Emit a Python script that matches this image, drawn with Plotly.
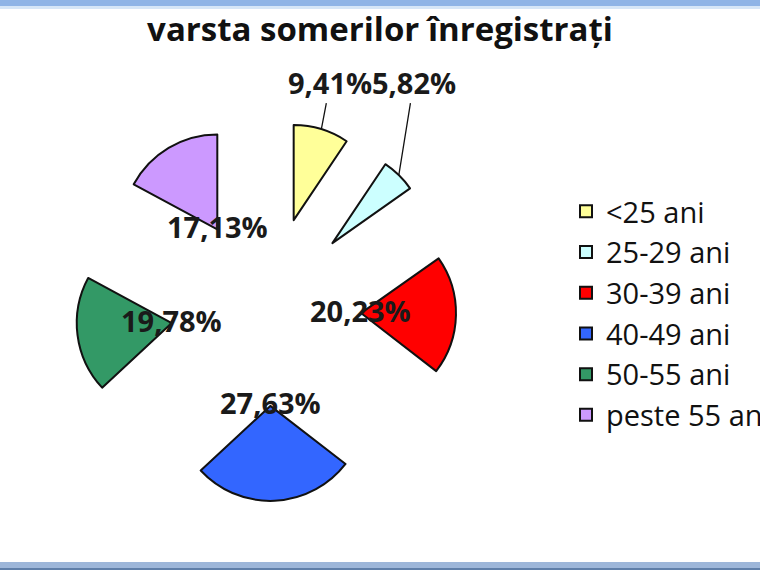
import math
import plotly.graph_objects as go

# ---- data ----
categories = ["<25 ani", "25-29 ani", "30-39 ani", "40-49 ani", "50-55 ani", "peste 55 ani"]
values = [9.41, 5.82, 20.23, 27.63, 19.78, 17.13]
colors = ["#FFFF99", "#CCFFFF", "#FF0000", "#3366FF", "#339966", "#CC99FF"]
title_text = "varsta somerilor înregistrați"

def fmt(v):
    return f"{v:.2f}".replace(".", ",") + "%"

labels_text = [fmt(v) for v in values]

# ---- layout geometry ----
W, H = 760, 570
PULL = 1.0
DOM_X = [76 / W, 456 / W]
DOM_Y = [1 - 501 / H, 1 - 121 / H]
FONT = "Open Sans"

fig = go.Figure()
fig.add_trace(go.Pie(
    labels=categories,
    values=values,
    sort=False,
    direction="clockwise",
    rotation=0,
    pull=[PULL] * len(values),
    marker=dict(colors=colors, line=dict(color="#111111", width=2)),
    textinfo="none",
    hoverinfo="label+percent",
    domain=dict(x=DOM_X, y=DOM_Y),
))

# compute slice geometry like plotly does, to place the labels at slice apexes
box_w = W * (DOM_X[1] - DOM_X[0])
box_h = H * (DOM_Y[1] - DOM_Y[0])
r = min(box_w, box_h) / (2 + 2 * PULL)
cx = W * (DOM_X[0] + DOM_X[1]) / 2
cy = H * (1 - (DOM_Y[0] + DOM_Y[1]) / 2)
total = sum(values)

label_font = dict(family=FONT, size=29, color="#1a1a1a", weight="bold")
leader_offsets = {0: (9, -47), 1: (15, -93)}

annotations = []
cum = 0.0
for i, v in enumerate(values):
    theta = math.radians(360 * (cum + v / 2) / total)
    cum += v
    ax_px = cx + PULL * r * math.sin(theta)
    ay_px = cy - PULL * r * math.cos(theta)
    if i in leader_offsets:
        # small slices: label above with a leader line to the arc middle
        tx = ax_px + r * math.sin(theta)
        ty = ay_px - r * math.cos(theta)
        off_x, off_y = leader_offsets[i]
        annotations.append(dict(
            x=tx / W, y=1 - ty / H, xref="paper", yref="paper",
            text=labels_text[i], showarrow=True, arrowhead=0, arrowwidth=1.3,
            arrowcolor="#111111", ax=off_x, ay=off_y, standoff=0,
            xanchor="center", yanchor="middle", font=label_font,
        ))
    else:
        annotations.append(dict(
            x=ax_px / W, y=1 - (ay_px - 3) / H, xref="paper", yref="paper",
            text=labels_text[i], showarrow=False,
            xanchor="center", yanchor="middle", font=label_font,
        ))

shapes = [
    dict(type="rect", xref="paper", yref="paper", x0=0, x1=1, y0=1 - 6 / H, y1=1,
         fillcolor="#8FB4E6", line=dict(width=0), layer="above"),
    dict(type="rect", xref="paper", yref="paper", x0=0, x1=1, y0=1 - 9 / H, y1=1 - 6 / H,
         fillcolor="#D6E6F7", line=dict(width=0), layer="above"),
    dict(type="rect", xref="paper", yref="paper", x0=0, x1=1, y0=0, y1=8 / H,
         fillcolor="#9DB6D9", line=dict(width=0), layer="above"),
    dict(type="rect", xref="paper", yref="paper", x0=0, x1=1, y0=0, y1=2 / H,
         fillcolor="#5F7EA8", line=dict(width=0), layer="above"),
]

fig.update_layout(
    width=W, height=H,
    margin=dict(l=0, r=0, t=0, b=0, autoexpand=False),
    paper_bgcolor="white",
    plot_bgcolor="white",
    title=dict(text=title_text, x=0.5, xanchor="center", y=1 - 29 / H, yanchor="middle",
               font=dict(family=FONT, size=33, color="#111111", weight="bold")),
    legend=dict(x=566 / W, y=1 - 186 / H, xanchor="left", yanchor="top",
                xref="container", yref="container",
                font=dict(family=FONT, size=29, color="#111111"),
                bgcolor="rgba(0,0,0,0)", itemwidth=30),
    annotations=annotations,
    shapes=shapes,
    showlegend=True,
)

fig.write_html(
    "out.html",
    config={"displayModeBar": False},
    post_script="document.body.style.margin='0';document.body.style.overflow='hidden';",
)
